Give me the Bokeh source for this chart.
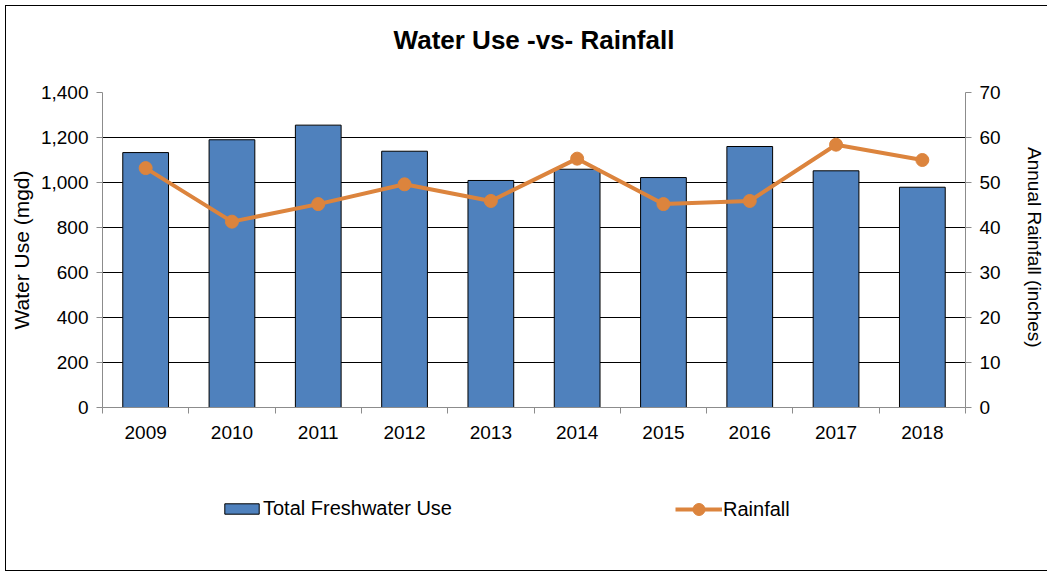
from bokeh.plotting import figure
from bokeh.layouts import column
from bokeh.models import (LinearAxis, Range1d, FixedTicker, NumeralTickFormatter,
                          Legend, LegendItem, Title)
from bokeh.embed import file_html
from bokeh.resources import INLINE

years = [2009, 2010, 2011, 2012, 2013, 2014, 2015, 2016, 2017, 2018]
water_use = [1133, 1190, 1255, 1139, 1009, 1059, 1022, 1160, 1052, 979]
rainfall = [53.2, 41.3, 45.2, 49.6, 45.9, 55.3, 45.2, 45.9, 58.4, 55.0]
left_ticks = [0, 200, 400, 600, 800, 1000, 1200, 1400]
right_ticks = [0, 10, 20, 30, 40, 50, 60, 70]

FONT = "Liberation Sans"
BAR = "#4F81BD"
ORANGE = "#DC843D"
AXIS_GRAY = "#8C8C8C"
TICK_SIZE = "19px"
W = 1041

p = figure(width=W, height=464, output_backend="svg", toolbar_location=None,
           x_range=Range1d(years[0] - 0.5, years[-1] + 0.5),
           y_range=Range1d(0, 1400),
           min_border_left=95, min_border_right=82, min_border_top=86, min_border_bottom=63)
p.extra_y_ranges = {"rain": Range1d(0, 70)}

# spacer panel between the frame and the title, then the title itself (further out)
p.add_layout(Title(text=" ", text_font_size="1px", standoff=30), "above")
p.add_layout(Title(text="Water Use -vs- Rainfall", text_font=FONT, text_font_size="26px",
                   text_font_style="bold", text_color="black", align="center",
                   offset=0, standoff=10), "above")

p.outline_line_color = None
p.xgrid.grid_line_color = None
p.ygrid.grid_line_color = "black"
p.ygrid.grid_line_width = 1
p.ygrid.ticker = FixedTicker(ticks=left_ticks)

bars = p.vbar(x=years, top=water_use, width=0.53, fill_color=BAR,
              line_color="black", line_width=1)
ln = p.line(x=years, y=rainfall, y_range_name="rain", line_color=ORANGE, line_width=4)
sc = p.scatter(x=years, y=rainfall, y_range_name="rain", size=13,
               fill_color=ORANGE, line_color=ORANGE)

# x axis
xa = p.xaxis[0]
xa.ticker = FixedTicker(ticks=years, minor_ticks=[y - 0.5 for y in years] + [years[-1] + 0.5])
xa.major_tick_line_color = None
xa.minor_tick_in = 0
xa.minor_tick_out = 6
xa.minor_tick_line_color = AXIS_GRAY
xa.axis_line_color = AXIS_GRAY
xa.major_label_text_font = FONT
xa.major_label_text_font_size = TICK_SIZE
xa.major_label_text_color = "black"
xa.major_label_standoff = 12

# left axis
ya = p.yaxis[0]
ya.ticker = FixedTicker(ticks=left_ticks)
ya.formatter = NumeralTickFormatter(format="0,0")
ya.axis_line_color = AXIS_GRAY
ya.major_tick_line_color = AXIS_GRAY
ya.major_tick_in = 0
ya.major_tick_out = 6
ya.minor_tick_line_color = None
ya.major_label_text_font = FONT
ya.major_label_text_font_size = TICK_SIZE
ya.major_label_text_color = "black"
ya.major_label_standoff = 8
ya.axis_label = "Water Use (mgd)"
ya.axis_label_text_font = FONT
ya.axis_label_text_font_size = "21px"
ya.axis_label_text_font_style = "normal"
ya.axis_label_text_color = "black"
ya.axis_label_standoff = 5

ra = LinearAxis(y_range_name="rain", ticker=FixedTicker(ticks=right_ticks))
ra.axis_line_color = AXIS_GRAY
ra.major_tick_line_color = AXIS_GRAY
ra.major_tick_in = 0
ra.major_tick_out = 6
ra.minor_tick_line_color = None
ra.major_label_text_font = FONT
ra.major_label_text_font_size = TICK_SIZE
ra.major_label_text_color = "black"
ra.major_label_standoff = 8
ra.axis_label = "Annual Rainfall  (inches)"
ra.axis_label_text_font = FONT
ra.axis_label_text_font_size = "19px"
ra.axis_label_text_font_style = "normal"
ra.axis_label_text_color = "black"
ra.axis_label_standoff = 20
p.add_layout(ra, "right")

# legend strip below the chart (its frame is aligned with the chart's frame);
# its renderers are hidden, only their legend entries are drawn
lg = figure(width=W, height=100, output_backend="svg", toolbar_location=None,
            x_range=Range1d(0, 1), y_range=Range1d(0, 1),
            x_axis_type=None, y_axis_type=None,
            min_border_left=0, min_border_right=0, min_border_top=0, min_border_bottom=0)
lg.outline_line_color = None
lg.grid.grid_line_color = None
lbar = lg.vbar(x=years, top=water_use, width=0.53, fill_color=BAR,
               line_color="black", line_width=1, visible=False)
lline = lg.line(x=years, y=rainfall, line_color=ORANGE, line_width=4, visible=False)
lsc = lg.scatter(x=years, y=rainfall, size=13, fill_color=ORANGE, line_color=ORANGE,
                 visible=False)

common = dict(orientation="horizontal", border_line_color=None, background_fill_alpha=0,
              padding=0, margin=0, label_text_font=FONT, label_text_font_size="20px",
              label_text_color="black", click_policy="none")
leg1 = Legend(items=[LegendItem(label="Total Freshwater Use", renderers=[lbar])],
              location=(118, 50), glyph_width=43, glyph_height=13, label_standoff=0,
              **common)
leg2 = Legend(items=[LegendItem(label="Rainfall", renderers=[lline, lsc])],
              location=(573, 46), glyph_width=47, glyph_height=30, label_standoff=1,
              **common)
lg.add_layout(leg1, "center")
lg.add_layout(leg2, "center")

layout = column(p, lg, spacing=0)
layout.styles = {"border": "1px solid black", "margin-left": "5px", "margin-top": "5px"}

open("out.html", "w").write(file_html(layout, INLINE))
